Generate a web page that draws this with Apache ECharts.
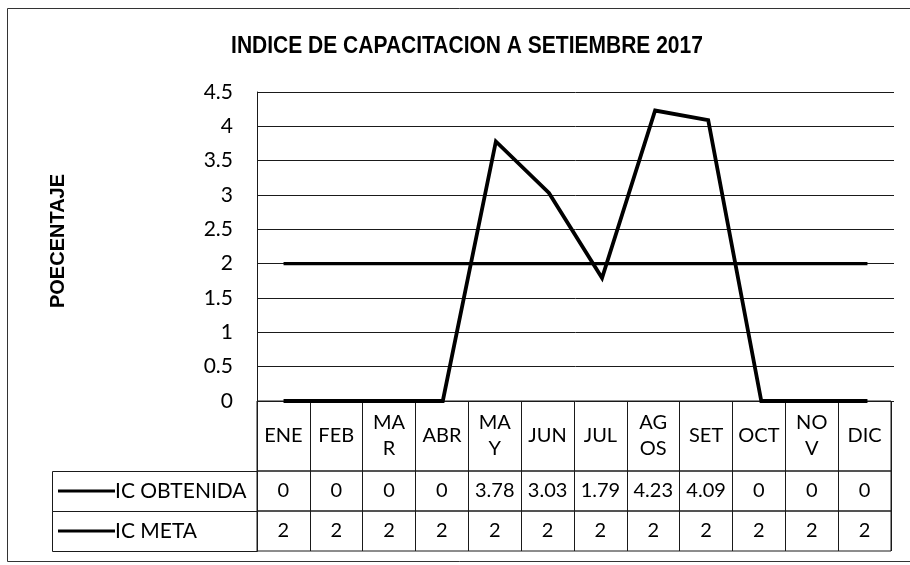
<!DOCTYPE html>
<html>
<head>
<meta charset="utf-8">
<script src="https://cdn.jsdelivr.net/npm/echarts@6/dist/echarts.min.js"></script>
<style>
  html, body { margin: 0; padding: 0; background: #fff; }
  #chart { width: 910px; height: 565px; }
</style>
</head>
<body>
<div id="chart"></div>
<script>
// Months shown in the data table header (wrapped the way the narrow cells wrap them)
const monthLabels = ['ENE', 'FEB', 'MA\nR', 'ABR', 'MA\nY', 'JUN', 'JUL', 'AG\nOS', 'SET', 'OCT', 'NO\nV', 'DIC'];
// Training index obtained per month
const icObtenida = [0, 0, 0, 0, 3.78, 3.03, 1.79, 4.23, 4.09, 0, 0, 0];
// Target index per month
const icMeta = [2, 2, 2, 2, 2, 2, 2, 2, 2, 2, 2, 2];
// Value axis ticks
const yMin = 0, yMax = 4.5, yStep = 0.5;

const INK = '#1a1a1a';
const FONT = 'Lato, "Open Sans", sans-serif';

// Layout of the plot and of the data table under it
const plotLeft = 257, plotRight = 16, plotTop = 92, plotBottomY = 401;
const headerH = 70, rowH = 40;
const labelCellLeft = 52;

const row1Top = plotBottomY + headerH;
const row2Top = row1Top + rowH;

function tableAxis(gridIndex, data, margin) {
  return {
    type: 'category',
    gridIndex: gridIndex,
    data: data,
    boundaryGap: true,
    axisLine: { show: false },
    axisTick: { show: false },
    splitLine: { show: true, interval: 0, lineStyle: { color: INK, width: 1 } },
    axisLabel: {
      interval: 0,
      margin: margin,
      verticalAlign: 'middle',
      color: '#000',
      fontFamily: FONT,
      fontSize: 20,
      lineHeight: 26
    }
  };
}

function hiddenY(gridIndex) {
  return { type: 'value', gridIndex: gridIndex, show: false, splitLine: { show: false } };
}

const chart = echarts.init(document.getElementById('chart'), null, { renderer: 'canvas' });

chart.setOption({
  backgroundColor: '#fff',
  animation: false,
  legend: {
    orient: 'vertical',
    left: 58,
    top: row1Top,
    padding: 0,
    itemGap: 0,
    itemWidth: 57,
    itemHeight: 3,
    icon: 'rect',
    selectedMode: false,
    data: ['IC OBTENIDA', 'IC META'],
    textStyle: {
      fontFamily: FONT,
      fontSize: 21,
      color: '#000',
      lineHeight: rowH,
      padding: [0, 0, 0, -5]
    }
  },
  grid: [
    { left: plotLeft, right: plotRight, top: plotTop, bottom: 565 - plotBottomY },
    { left: plotLeft, right: plotRight + 3, top: plotBottomY, height: headerH,
      show: true, borderColor: INK, borderWidth: 1, backgroundColor: 'transparent' },
    { left: plotLeft, right: plotRight + 3, top: row1Top, height: rowH,
      show: true, borderColor: INK, borderWidth: 1, backgroundColor: 'transparent' },
    { left: plotLeft, right: plotRight + 3, top: row2Top, height: rowH,
      show: true, borderColor: INK, borderWidth: 1, backgroundColor: 'transparent' }
  ],
  xAxis: [
    {
      type: 'category',
      gridIndex: 0,
      data: monthLabels,
      boundaryGap: true,
      axisLine: { show: false },
      axisTick: { show: false },
      axisLabel: { show: false },
      splitLine: { show: false }
    },
    tableAxis(1, monthLabels, -headerH / 2),
    tableAxis(2, icObtenida.map(String), -rowH / 2),
    tableAxis(3, icMeta.map(String), -rowH / 2)
  ],
  yAxis: [
    {
      type: 'value',
      gridIndex: 0,
      min: yMin,
      max: yMax,
      interval: yStep,
      axisLine: { show: true, lineStyle: { color: INK, width: 1 } },
      axisTick: { show: false },
      axisLabel: {
        margin: 24,
        color: '#000',
        fontFamily: FONT,
        fontSize: 21
      },
      splitLine: { show: true, lineStyle: { color: INK, width: 1 } }
    },
    hiddenY(1),
    hiddenY(2),
    hiddenY(3)
  ],
  graphic: [
    // chart title, set in a condensed bold face
    { type: 'text', silent: true, z: 20,
      x: 467, y: 46, scaleX: 0.875,
      style: {
        text: 'INDICE DE CAPACITACION A SETIEMBRE 2017',
        fontFamily: '"Liberation Sans", Arial, sans-serif',
        fontWeight: 'bold',
        fontSize: 24,
        fill: '#000',
        align: 'center',
        verticalAlign: 'middle'
      } },
    // value axis title
    { type: 'text', silent: true, z: 20,
      x: 58, y: 241, rotation: Math.PI / 2,
      style: {
        text: 'POECENTAJE',
        fontFamily: '"Liberation Sans", Arial, sans-serif',
        fontWeight: 'bold',
        fontSize: 20,
        fill: '#000',
        align: 'center',
        verticalAlign: 'middle'
      } },
    // outer chart frame
    { type: 'rect', silent: true, z: 0,
      shape: { x: 7.5, y: 8.5, width: 920, height: 553 },
      style: { fill: 'none', stroke: '#333', lineWidth: 1 } },
    // series-name cells of the data table
    { type: 'rect', silent: true, z: 10,
      shape: { x: labelCellLeft + 0.5, y: row1Top + 0.5, width: plotLeft - labelCellLeft, height: rowH },
      style: { fill: 'none', stroke: INK, lineWidth: 1 } },
    { type: 'rect', silent: true, z: 10,
      shape: { x: labelCellLeft + 0.5, y: row2Top + 0.5, width: plotLeft - labelCellLeft, height: rowH },
      style: { fill: 'none', stroke: INK, lineWidth: 1 } }
  ],
  series: [
    {
      name: 'IC OBTENIDA',
      type: 'line',
      xAxisIndex: 0,
      yAxisIndex: 0,
      data: icObtenida,
      symbol: 'none',
      showSymbol: false,
      lineStyle: { color: '#000', width: 3.8, join: 'miter' },
      itemStyle: { color: '#000' },
      z: 5
    },
    {
      name: 'IC META',
      type: 'line',
      xAxisIndex: 0,
      yAxisIndex: 0,
      data: icMeta,
      symbol: 'none',
      showSymbol: false,
      lineStyle: { color: '#000', width: 3.2 },
      itemStyle: { color: '#000' },
      z: 4
    }
  ]
});
</script>
</body>
</html>
